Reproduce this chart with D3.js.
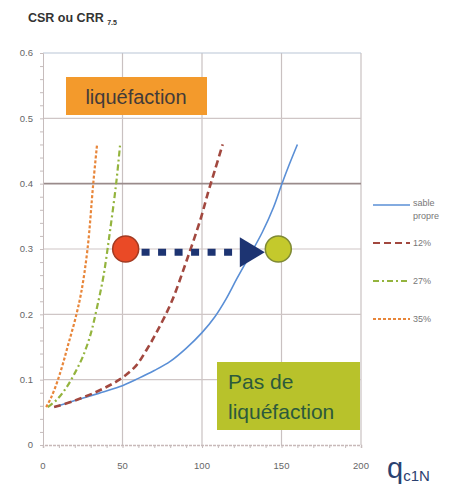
<!DOCTYPE html>
<html>
<head>
<meta charset="utf-8">
<script src="https://cdn.jsdelivr.net/npm/d3@7"></script>
<style>
	body { margin: 0; background: #fff; }
	svg { display: block; font-family: "Liberation Sans", Arial, sans-serif; }
</style>
</head>
<body>
<script>
// data: [qc1N, CSR]
var sableData = [[7, 0.058], [20, 0.068], [35, 0.079], [48, 0.089], [60, 0.102], [70, 0.114], [80, 0.128], [90, 0.148], [100, 0.172], [108, 0.196], [115, 0.223], [122, 0.255], [130, 0.29], [138, 0.326], [145, 0.364], [150, 0.398], [155, 0.43], [160, 0.46]];
var fines12Data = [[7, 0.058], [20, 0.068], [35, 0.083], [48, 0.1], [58, 0.12], [65, 0.145], [72, 0.175], [81, 0.22], [90, 0.28], [99, 0.345], [104, 0.388], [108, 0.42], [113, 0.46]];
var fines27Data = [[3, 0.058], [9, 0.07], [15, 0.089], [20, 0.11], [25, 0.135], [30, 0.17], [34, 0.211], [38, 0.258], [42, 0.325], [46, 0.4], [48.5, 0.46]];
var fines35Data = [[2, 0.058], [5, 0.072], [9, 0.097], [12.6, 0.125], [16, 0.155], [20, 0.19], [24, 0.233], [28, 0.3], [31.6, 0.4], [34, 0.46]];

var seriesNames = ["sable propre", "12%", "27%", "35%"];
var xTicks = [0, 50, 100, 150, 200];
var yTicks = [0, 0.1, 0.2, 0.3, 0.4, 0.5, 0.6];

// the two states and the arrow between them
var stateQ = [52, 148];
var stateCsr = [0.3, 0.3];
var arrowQ = [62, 139.5];
var arrowCsr = 0.295;

var width = 452, height = 490;

var svg = d3.select("body").append("svg")
	.attr("width", width)
	.attr("height", height);

var x = d3.scaleLinear().domain([0, 200]).range([43, 361]);
var y = d3.scaleLinear().domain([0, 0.6]).range([445, 53]);

// grid
svg.append("g").selectAll("line")
	.data(xTicks.slice(1))
	.enter().append("line")
	.attr("x1", function(d) { return x(d); })
	.attr("x2", function(d) { return x(d); })
	.attr("y1", y(0.6))
	.attr("y2", y(0))
	.style("stroke", "#c9c1c1")
	.style("stroke-width", 1.2);

svg.append("g").selectAll("line")
	.data(yTicks.slice(1))
	.enter().append("line")
	.attr("x1", x(0))
	.attr("x2", x(200))
	.attr("y1", function(d) { return y(d); })
	.attr("y2", function(d) { return y(d); })
	.style("stroke", function(d) { return d == 0.4 ? "#9a8b8b" : d == 0.6 ? "#b9c6d6" : "#cfc6c6"; })
	.style("stroke-width", function(d) { return d == 0.4 ? 1.6 : 1.2; });

// axes
var yAxis = d3.axisLeft(y).tickValues(d3.range(0, 0.601, 0.02)).tickSize(3).tickFormat("");
svg.append("g")
	.attr("transform", "translate(" + x(0) + ",0)")
	.call(yAxis)
	.call(function(g) { g.selectAll("line, path").style("stroke", "#c6bcbc"); });

var xAxis = d3.axisBottom(x).tickValues(d3.range(0, 201, 10)).tickSize(3).tickFormat("");
svg.append("g")
	.attr("transform", "translate(0," + y(0) + ")")
	.call(xAxis)
	.call(function(g) {
		g.selectAll("line").style("stroke", "#c6bcbc");
		g.select("path").style("stroke", "#c8b9b9").style("stroke-width", 1.5).style("stroke-dasharray", "3,1");
	});

svg.append("g").selectAll("text")
	.data(yTicks)
	.enter().append("text")
	.attr("x", 33)
	.attr("y", function(d) { return y(d); })
	.attr("dy", "0.35em")
	.style("text-anchor", "end")
	.style("font-size", "9.5px")
	.style("fill", "#666")
	.text(function(d) { return d == 0 ? "0" : d3.format(".1f")(d); });

svg.append("g").selectAll("text")
	.data(xTicks)
	.enter().append("text")
	.attr("x", function(d) { return x(d); })
	.attr("y", 469)
	.style("text-anchor", "middle")
	.style("font-size", "9.5px")
	.style("fill", "#666")
	.text(function(d) { return d; });

// titles
var title = svg.append("text")
	.attr("x", 28)
	.attr("y", 22)
	.style("font-size", "12.5px")
	.style("font-weight", "bold")
	.style("fill", "#333");
title.append("tspan").text("CSR ou CRR ");
title.append("tspan").attr("dy", 3).style("font-size", "7px").text("7.5");

var xTitle = svg.append("text")
	.attr("x", 387)
	.attr("y", 478)
	.style("fill", "#2b4170");
xTitle.append("tspan").style("font-size", "29px").text("q");
xTitle.append("tspan").attr("dy", 3).style("font-size", "15px").text("c1N");

// region boxes
svg.append("rect")
	.attr("x", 66).attr("y", 77)
	.attr("width", 141).attr("height", 38)
	.style("fill", "#f39a2c");
svg.append("text")
	.attr("x", 136).attr("y", 104)
	.style("text-anchor", "middle")
	.style("font-size", "20px")
	.style("fill", "#433b39")
	.text("liquéfaction");

svg.append("rect")
	.attr("x", 217).attr("y", 362)
	.attr("width", 143).attr("height", 68)
	.style("fill", "#b8c22b");
svg.append("text")
	.attr("x", 228).attr("y", 389)
	.style("font-size", "21px")
	.style("fill", "#2c5a3c")
	.text("Pas de");
svg.append("text")
	.attr("x", 228).attr("y", 419)
	.style("font-size", "21px")
	.style("fill", "#2c5a3c")
	.text("liquéfaction");

// curves
var styles = [
	{ data: sableData, color: "#5a8fd6", width: 1.6, dash: null },
	{ data: fines12Data, color: "#a2483f", width: 2.6, dash: "7,4" },
	{ data: fines27Data, color: "#94b43e", width: 2.2, dash: "6,3,2,3" },
	{ data: fines35Data, color: "#e8863a", width: 2.2, dash: "3,2" }
];

var line = d3.line()
	.x(function(d) { return x(d[0]); })
	.y(function(d) { return y(d[1]); })
	.curve(d3.curveCatmullRom.alpha(0.5));

svg.append("g").selectAll("path")
	.data(styles)
	.enter().append("path")
	.attr("d", function(d) { return line(d.data); })
	.style("fill", "none")
	.style("stroke", function(d) { return d.color; })
	.style("stroke-width", function(d) { return d.width; })
	.style("stroke-dasharray", function(d) { return d.dash; });

// arrow
var headLen = 25;
svg.append("line")
	.attr("x1", x(arrowQ[0]))
	.attr("x2", x(arrowQ[1]) - headLen + 2)
	.attr("y1", y(arrowCsr))
	.attr("y2", y(arrowCsr))
	.style("stroke", "#1d3472")
	.style("stroke-width", 7)
	.style("stroke-dasharray", "8,8.5");
var ax = x(arrowQ[1]), ay = y(arrowCsr);
svg.append("path")
	.attr("d", "M" + ax + "," + ay + "L" + (ax - headLen) + "," + (ay - 15) + "L" + (ax - headLen) + "," + (ay + 15) + "Z")
	.style("fill", "#1d3472");

// state circles
svg.append("g").selectAll("circle")
	.data(stateQ)
	.enter().append("circle")
	.attr("cx", function(d) { return x(d); })
	.attr("cy", function(d, i) { return y(stateCsr[i]); })
	.attr("r", 13)
	.style("fill", function(d, i) { return i == 0 ? "#ea4a26" : "#c4c92c"; })
	.style("stroke", function(d, i) { return i == 0 ? "#a33a22" : "#7f8a34"; })
	.style("stroke-width", 1.5);

// legend
var legend = svg.selectAll(".legend")
	.data(styles)
	.enter().append("g")
	.attr("class", "legend")
	.attr("transform", function(d, i) { return "translate(0," + [205, 243, 281, 319][i] + ")"; });

legend.append("line")
	.attr("x1", 373).attr("x2", 410)
	.style("stroke", function(d) { return d.color; })
	.style("stroke-width", function(d) { return Math.min(d.width, 2); })
	.style("stroke-dasharray", function(d) { return d.dash; });

legend.append("text")
	.attr("x", 413)
	.attr("y", function(d, i) { return i == 0 ? -2 : 0; })
	.attr("dy", "0.35em")
	.style("font-size", "9px")
	.style("fill", "#777")
	.text(function(d, i) { return i == 0 ? "sable" : seriesNames[i]; });

svg.append("text")
	.attr("x", 413).attr("y", 216)
	.attr("dy", "0.35em")
	.style("font-size", "9px")
	.style("fill", "#777")
	.text("propre");
</script>
</body>
</html>
